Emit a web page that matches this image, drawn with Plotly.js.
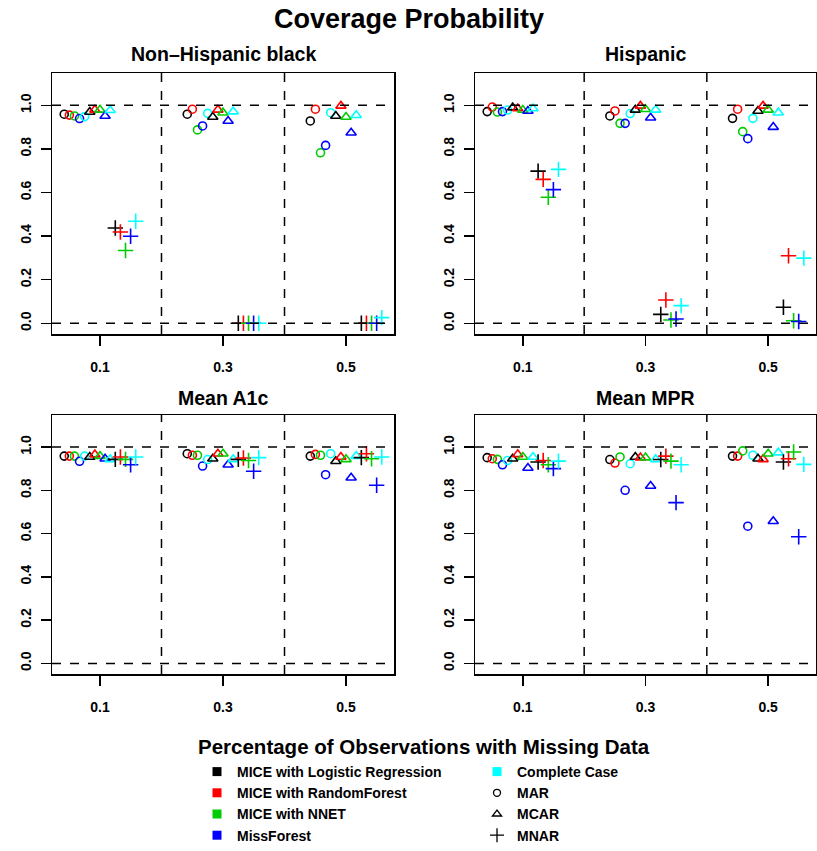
<!DOCTYPE html>
<html>
<head>
<meta charset="utf-8">
<script src="https://cdn.plot.ly/plotly-3.0.1.min.js"></script>
<style>html,body{margin:0;padding:0;background:#fff;}#chart{width:817px;height:851px;}</style>
</head>
<body>
<div id="chart"></div>
<script>
// ---------------- DATA ----------------
const missingPct = [0.1, 0.3, 0.5];
const xTickLabels = ["0.1", "0.3", "0.5"];
const yTickVals = [0, 0.2, 0.4, 0.6, 0.8, 1.0];
const methods = ["MICE with Logistic Regression", "MICE with RandomForest", "MICE with NNET", "MissForest", "Complete Case"];
const mechanisms = ["MAR", "MCAR", "MNAR"];
const panelTitles = ["Non\u2013Hispanic black", "Hispanic", "Mean A1c", "Mean MPR"];
const referenceLevels = [0, 1];
const groupBreaks = [0.2, 0.4];

// values per method (rows: LR, RF, NNET, MissForest, Complete Case), columns: 0.1, 0.3, 0.5
const nhbMAR  = [[0.959,0.959,0.928],[0.955,0.982,0.982],[0.951,0.887,0.782],[0.939,0.905,0.816],[0.948,0.963,0.966]];
const nhbMCAR = [[0.969,0.946,0.951],[0.979,0.979,0.997],[0.979,0.966,0.946],[0.951,0.928,0.874],[0.977,0.971,0.954]];
const nhbMNAR = [[0.437,0,0],[0.419,0,0],[0.334,0,0],[0.399,0,0],[0.468,0,0.026]];

const hisMAR  = [[0.971,0.951,0.940],[0.992,0.974,0.982],[0.969,0.917,0.879],[0.971,0.917,0.847],[0.978,0.962,0.940]];
const hisMCAR = [[0.989,0.979,0.974],[0.985,0.997,0.997],[0.978,0.982,0.979],[0.974,0.943,0.900],[0.985,0.979,0.966]];
const hisMNAR = [[0.698,0.041,0.074],[0.660,0.107,0.310],[0.578,0.015,0.012],[0.613,0.020,0.008],[0.706,0.081,0.299]];

const a1cMAR  = [[0.958,0.969,0.958],[0.958,0.962,0.966],[0.958,0.962,0.962],[0.934,0.912,0.872],[0.958,0.942,0.969]];
const a1cMCAR = [[0.954,0.946,0.934],[0.965,0.969,0.954],[0.958,0.969,0.943],[0.946,0.918,0.858],[0.943,0.943,0.958]];
const a1cMNAR = [[0.943,0.943,0.951],[0.954,0.949,0.969],[0.943,0.938,0.946],[0.918,0.888,0.823],[0.954,0.951,0.954]];

const mprMAR  = [[0.951,0.942,0.958],[0.946,0.926,0.958],[0.943,0.954,0.982],[0.918,0.800,0.634],[0.938,0.923,0.962]];
const mprMCAR = [[0.946,0.954,0.946],[0.966,0.951,0.943],[0.954,0.951,0.969],[0.903,0.820,0.657],[0.954,0.943,0.974]];
const mprMNAR = [[0.931,0.942,0.931],[0.938,0.958,0.946],[0.918,0.935,0.977],[0.900,0.743,0.585],[0.935,0.918,0.920]];

const panelData = [
  [nhbMAR, nhbMCAR, nhbMNAR],
  [hisMAR, hisMCAR, hisMNAR],
  [a1cMAR, a1cMCAR, a1cMNAR],
  [mprMAR, mprMCAR, mprMNAR]
];

// ---------------- STYLE ----------------
const colors = ["#000000", "#FF0000", "#00CD00", "#0000FF", "#00FFFF"];
const symbols = ["circle-open", "triangle-up-open", "cross-thin-open"];
const symSizes = [8, 9, 11];
const dodgeStep = 0.0083;
const FONT = "Liberation Sans, Arial, Helvetica, sans-serif";

const W = 817, H = 851;
const px = v => v / W;
const py = v => 1 - v / H;
const xDomains = [[px(52), px(394)], [px(475), px(816)], [px(52), px(394)], [px(475), px(816)]];
const yDomains = [[py(334), py(73)], [py(334), py(73)], [py(674), py(415)], [py(674), py(415)]];

const traces = [];
panelData.forEach((panel, p) => {
  const ax = p === 0 ? "" : String(p + 1);
  panel.forEach((mechArr, m) => {
    mechArr.forEach((vals, k) => {
      const idx = m * 5 + k;
      const off = (idx - 7) * dodgeStep;
      traces.push({
        type: "scatter", mode: "markers",
        x: missingPct.map(v => v + off),
        y: vals,
        xaxis: "x" + ax, yaxis: "y" + ax,
        showlegend: false, hoverinfo: "skip",
        marker: { symbol: symbols[m], size: symSizes[m], color: colors[k], line: { color: colors[k], width: 1.6 } }
      });
    });
  });
});

// legend entries
methods.forEach((name, k) => {
  traces.push({
    type: "scatter", mode: "markers", x: [null], y: [null], name: name,
    legend: k < 4 ? "legend" : "legend2",
    marker: { symbol: "square", size: 9, color: colors[k] }, showlegend: true, hoverinfo: "skip"
  });
});
mechanisms.forEach((name, m) => {
  traces.push({
    type: "scatter", mode: "markers", x: [null], y: [null], name: name,
    legend: "legend2",
    marker: { symbol: symbols[m], size: symSizes[m] - 1, color: "#000", line: { color: "#000", width: 1.3 } }, showlegend: true, hoverinfo: "skip"
  });
});

const layout = {
  width: W, height: H,
  margin: { l: 0, r: 0, t: 0, b: 0 },
  paper_bgcolor: "#fff", plot_bgcolor: "#fff",
  font: { family: FONT, color: "#000" },
  showlegend: true,
  legend: {
    x: px(197), y: 0, xanchor: "left", yanchor: "bottom",
    font: { family: FONT, size: 14, weight: "bold", color: "#000" },
    bgcolor: "rgba(0,0,0,0)", tracegroupgap: 0, itemwidth: 30
  },
  legend2: {
    x: px(477), y: 0, xanchor: "left", yanchor: "bottom",
    font: { family: FONT, size: 14, weight: "bold", color: "#000" },
    bgcolor: "rgba(0,0,0,0)", tracegroupgap: 0, itemwidth: 30
  },
  shapes: [],
  annotations: [
    { text: "Coverage Probability", x: px(409), y: py(19), xref: "paper", yref: "paper", showarrow: false,
      font: { family: FONT, size: 27, weight: "bold" }, xanchor: "center", yanchor: "middle" },
    { text: "Percentage of Observations with Missing Data", x: px(424), y: py(746), xref: "paper", yref: "paper", showarrow: false,
      font: { family: FONT, size: 20.5, weight: "bold" }, xanchor: "center", yanchor: "middle" }
  ]
};

const titleY = [py(54), py(54), py(398), py(398)];
panelData.forEach((_, p) => {
  const ax = p === 0 ? "" : String(p + 1);
  const axisCommon = {
    showline: true, mirror: true, linecolor: "#000", linewidth: 1.5,
    ticks: "outside", ticklen: 10, tickwidth: 1.5, tickcolor: "#000",
    showgrid: false, zeroline: false, fixedrange: true,
    tickfont: { family: FONT, size: 14, weight: "bold", color: "#000" }
  };
  layout["xaxis" + ax] = Object.assign({}, axisCommon, {
    domain: xDomains[p], range: [0.022, 0.578], anchor: "y" + ax,
    tickvals: missingPct, ticktext: xTickLabels, ticklabelstandoff: 10
  });
  layout["yaxis" + ax] = Object.assign({}, axisCommon, {
    domain: yDomains[p], range: [-0.049, 1.148], anchor: "x" + ax,
    tickvals: yTickVals, ticktext: yTickVals.map(v => v.toFixed(1)), tickangle: -90, ticklabelstandoff: 4
  });
  referenceLevels.forEach(v => {
    layout.shapes.push({ type: "line", xref: "x" + ax + " domain", yref: "y" + ax, x0: 0, x1: 1, y0: v, y1: v,
      line: { color: "#000", width: 1.5, dash: "dash" } });
  });
  groupBreaks.forEach(v => {
    layout.shapes.push({ type: "line", xref: "x" + ax, yref: "y" + ax + " domain", x0: v, x1: v, y0: 0, y1: 1,
      line: { color: "#000", width: 1.5, dash: "dash" } });
  });
  layout.annotations.push({
    text: panelTitles[p], x: (xDomains[p][0] + xDomains[p][1]) / 2, y: titleY[p], xref: "paper", yref: "paper",
    showarrow: false, font: { family: FONT, size: 19.5, weight: "bold" }, xanchor: "center", yanchor: "middle"
  });
});

Plotly.newPlot("chart", traces, layout, { displayModeBar: false, staticPlot: true });
</script>
</body>
</html>
